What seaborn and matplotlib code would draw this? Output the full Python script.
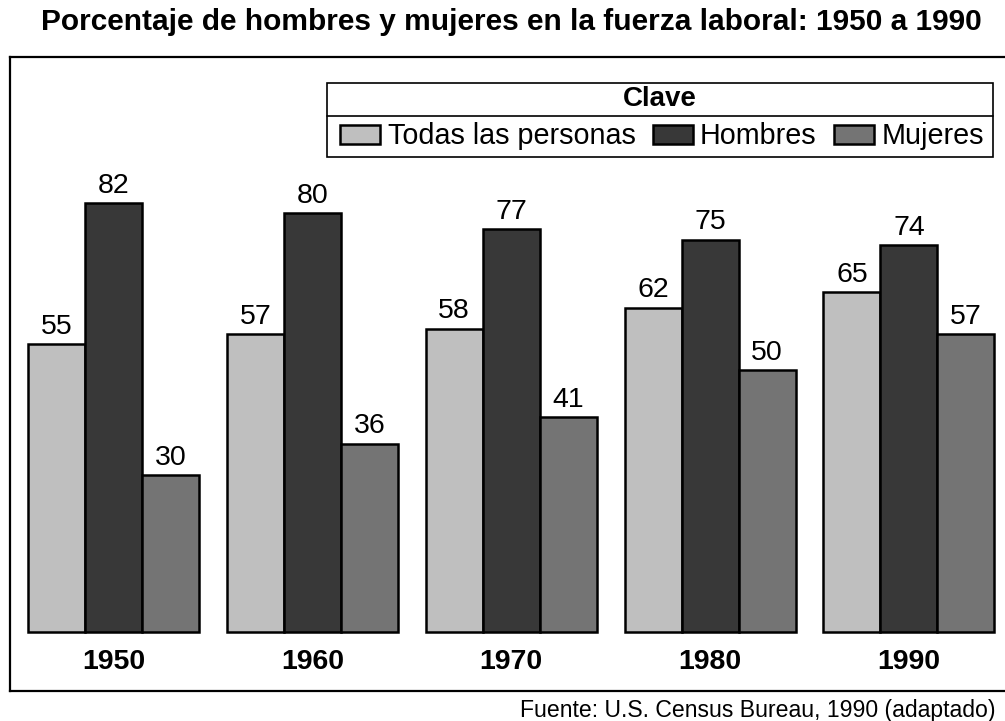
import pandas as pd
import seaborn as sns
import matplotlib.pyplot as plt
from matplotlib.patches import Patch, Rectangle
from matplotlib.lines import Line2D

years = ["1950", "1960", "1970", "1980", "1990"]
series = ["Todas las personas", "Hombres", "Mujeres"]
todas = [55, 57, 58, 62, 65]
hombres = [82, 80, 77, 75, 74]
mujeres = [30, 36, 41, 50, 57]
colors = ["#bfbfbf", "#383838", "#747474"]

df = pd.DataFrame({
    "year": years * 3,
    "serie": [series[0]] * 5 + [series[1]] * 5 + [series[2]] * 5,
    "value": todas + hombres + mujeres,
})

sns.set_theme(style="white")
plt.rcParams["font.family"] = ["Liberation Sans", "DejaVu Sans"]
plt.rcParams["text.color"] = "black"

W, H = 1005, 721
fig = plt.figure(figsize=(W / 100, H / 100), dpi=100)
ax = fig.add_axes([10 / W, (H - 691) / H, 1002 / W, 634 / H])

sns.barplot(data=df, x="year", y="value", hue="serie", hue_order=series,
            palette=colors, width=0.86, edgecolor="black", linewidth=1.8,
            saturation=1, legend=False, ax=ax)

for cont in ax.containers:
    ax.bar_label(cont, fontsize=20.5, padding=3, color="black")

ax.set_xlim(-0.520, 4.518)
ax.set_ylim(-11.28, 109.9)
ax.set_xticks([])
ax.set_yticks([])
ax.set_xlabel("")
ax.set_ylabel("")
for sp in ax.spines.values():
    sp.set_color("black")
    sp.set_linewidth(1.6)

for i, y in enumerate(years):
    ax.text(i, -5.7, y, ha="center", va="center", fontsize=20.5,
            fontweight="bold", color="black")

# legend box ("Clave")
x0, x1, y0, ymid, y1 = 327 / W, 993 / W, 1 - 83 / H, 1 - 116 / H, 1 - 157 / H
fig.patches.append(Rectangle((x0, y1), x1 - x0, y0 - y1, transform=fig.transFigure,
                             facecolor="white", edgecolor="black", linewidth=1.2, zorder=5))
fig.lines.append(Line2D([x0, x1], [ymid, ymid], transform=fig.transFigure,
                        color="black", linewidth=1.2, zorder=6))
fig.text((x0 + x1) / 2, (y0 + ymid) / 2, "Clave", ha="center", va="center",
         fontsize=20, fontweight="bold", color="black", zorder=7)
handles = [Patch(facecolor=c, edgecolor="black", linewidth=1.8) for c in colors]
leg = fig.legend(handles, series, loc="center", ncol=3,
                 bbox_to_anchor=((x0 + x1) / 2 + 2 / W, (ymid + y1) / 2),
                 frameon=False, fontsize=20.7, handlelength=1.4, handleheight=0.63,
                 handletextpad=0.25, columnspacing=0.6, borderpad=0, borderaxespad=0,
                 labelcolor="black")
leg.set_zorder(8)

fig.text(511 / W, 1 - 22 / H,
         "Porcentaje de hombres y mujeres en la fuerza laboral: 1950 a 1990",
         ha="center", va="center", fontsize=21.5, fontweight="bold", color="black")
fig.text(520 / W, 1 - 711 / H, "Fuente: U.S. Census Bureau, 1990 (adaptado)",
         ha="left", va="center", fontsize=16.6, color="black")

fig.savefig("out.png", dpi=100)
